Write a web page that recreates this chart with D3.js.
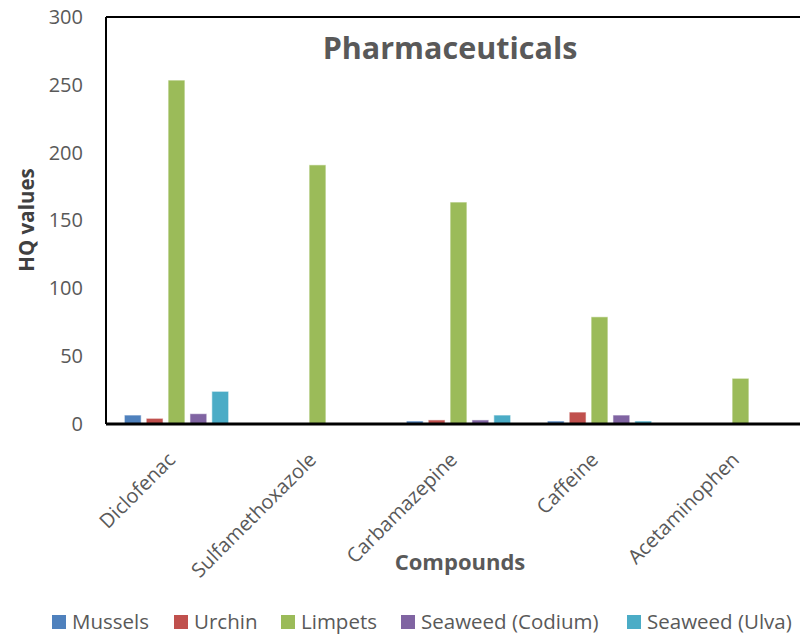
<!DOCTYPE html>
<html>
<head>
<meta charset="utf-8">
<script src="https://cdn.jsdelivr.net/npm/d3@7"></script>
<style>
  body { margin: 0; background: #fff; }
  svg { display: block; font-family: "Open Sans", sans-serif; }
</style>
</head>
<body>
<svg id="chart" width="800" height="635"></svg>
<script>
// Compounds on the x axis
const compounds = ["Diclofenac", "Sulfamethoxazole", "Carbamazepine", "Caffeine", "Acetaminophen"];
// Organisms (series)
const organisms = ["Mussels", "Urchin", "Limpets", "Seaweed (Codium)", "Seaweed (Ulva)"];
const colors = ["#4f81bd", "#c0504d", "#9bbb59", "#8064a2", "#4bacc6"];
// HQ values per organism, one entry per compound (0 = not shown)
const mussels = [6.6, 0, 2.2, 2.2, 0];
const urchin  = [4.2, 0, 3.0, 8.8, 0];
const limpets = [253.5, 191, 163.6, 79, 33.7];
const codium  = [7.6, 0, 3.0, 6.6, 0];
const ulva    = [24.1, 0, 6.6, 2.2, 0];
const yTicks = [0, 50, 100, 150, 200, 250, 300];

const series = [mussels, urchin, limpets, codium, ulva];

const svg = d3.select("#chart");
const plotLeft = 106, plotTop = 17, plotBottom = 424, plotRight = 811;
const FONT = "'Open Sans', sans-serif";

const x = d3.scaleBand().domain(compounds).range([plotLeft, plotRight]).paddingInner(0.26).paddingOuter(0.13);
const xs = d3.scaleBand().domain(organisms).range([0, x.bandwidth()]).paddingInner(0.23);
const y = d3.scaleLinear().domain([0, 300]).range([plotBottom, plotTop]);

// bars
const rows = [];
compounds.forEach((c, i) => organisms.forEach((o, j) => {
  if (series[j][i] > 0) rows.push({c, o, v: series[j][i], col: colors[j]});
}));
svg.append("g").selectAll("rect").data(rows).join("rect")
  .attr("x", d => x(d.c) + xs(d.o))
  .attr("y", d => y(d.v))
  .attr("width", xs.bandwidth())
  .attr("height", d => y(0) - y(d.v))
  .attr("fill", d => d.col)
  .attr("stroke", "#ffffff")
  .attr("stroke-opacity", 0.6)
  .attr("stroke-width", 1);

// frame: left and top lines
svg.append("line").attr("x1", plotLeft).attr("x2", plotLeft).attr("y1", plotTop).attr("y2", plotBottom)
  .attr("stroke", "#000").attr("stroke-width", 2);
svg.append("line").attr("x1", plotLeft).attr("x2", 800).attr("y1", plotTop).attr("y2", plotTop)
  .attr("stroke", "#000").attr("stroke-width", 2);

// y axis labels
const yAxis = d3.axisLeft(y).tickValues(yTicks).tickSize(0).tickPadding(23);
const gy = svg.append("g").attr("transform", `translate(${plotLeft},0)`).call(yAxis);
gy.select(".domain").remove();
gy.selectAll("text").attr("fill", "#595959").style("font-size", "20px")
  .style("font-family", FONT);

// baseline
svg.append("line").attr("x1", plotLeft).attr("x2", 800).attr("y1", plotBottom).attr("y2", plotBottom)
  .attr("stroke", "#000").attr("stroke-width", 3);

// x axis labels, rotated
const xAxis = d3.axisBottom(x).tickSize(0).tickPadding(0);
const gx = svg.append("g").attr("transform", `translate(0,${plotBottom})`).call(xAxis);
gx.select(".domain").remove();
gx.selectAll("text")
  .attr("fill", "#595959").style("font-size", "20px")
  .style("font-family", FONT)
  .attr("text-anchor", "end")
  .attr("x", 0).attr("y", 0).attr("dy", 0)
  .attr("transform", "translate(0,37) rotate(-45)");

// titles
svg.append("text").attr("x", 450).attr("y", 59).attr("text-anchor", "middle")
  .attr("fill", "#595959").style("font-size", "30.5px").style("font-weight", "bold")
  .text("Pharmaceuticals");
svg.append("text").attr("transform", "translate(34,220) rotate(-90)").attr("text-anchor", "middle")
  .attr("fill", "#404040").style("font-size", "20.5px").style("font-weight", "bold")
  .text("HQ values");
svg.append("text").attr("x", 460).attr("y", 570).attr("text-anchor", "middle")
  .attr("fill", "#595959").style("font-size", "22px").style("font-weight", "bold")
  .text("Compounds");

// legend
const legendX = [52, 174, 281, 401, 627];
const lg = svg.append("g").selectAll("g").data(organisms).join("g")
  .attr("transform", (d, i) => `translate(${legendX[i]},622)`);
lg.append("rect").attr("x", 0).attr("y", -7).attr("width", 14).attr("height", 14)
  .attr("fill", (d, i) => colors[i]);
lg.append("text").attr("x", 20).attr("y", 0).attr("dy", "0.36em")
  .attr("fill", "#595959").style("font-size", "20.5px").text(d => d);
</script>
</body>
</html>
